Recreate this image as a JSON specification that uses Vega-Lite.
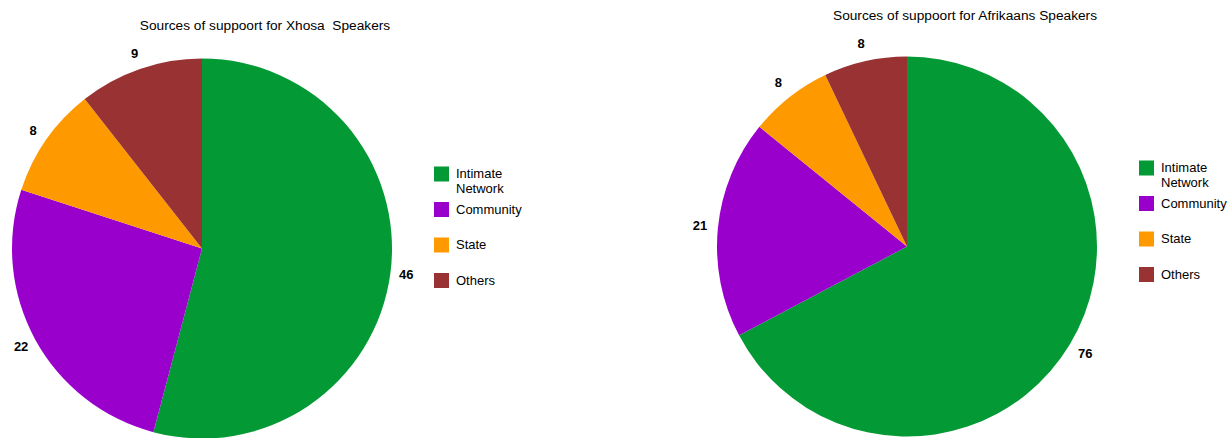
{
  "$schema": "https://vega.github.io/schema/vega-lite/v6.json",
  "background": "white",
  "padding": {"left": 12, "top": 8.5, "right": 0, "bottom": 0},
  "bounds": "flush",
  "spacing": 325,
  "config": {
    "view": {"stroke": null},
    "font": "Liberation Sans",
    "title": {"fontSize": 13.7, "fontWeight": "normal", "color": "#000000", "baseline": "alphabetic", "anchor": "middle"},
    "legend": {"labelFontSize": 13, "labelColor": "#000000", "symbolType": "square", "symbolSize": 225, "symbolStrokeWidth": 0, "labelOffset": 7, "rowPadding": 5.5, "title": null, "orient": "none", "labelLimit": 200}
  },
  "resolve": {"scale": {"color": "independent"}, "legend": {"color": "independent"}},
  "hconcat": [
    {
      "width": 380,
      "height": 380,
      "title": {"text": "Sources of suppoort for Xhosa\u00a0 Speakers", "dx": 63, "offset": 14.8},
      "data": {"values": [
        {"source": "Intimate Network", "count": 46, "seq": 1},
        {"source": "Community", "count": 22, "seq": 2},
        {"source": "State", "count": 8, "seq": 3},
        {"source": "Others", "count": 9, "seq": 4}
      ]},
      "encoding": {
        "theta": {"field": "count", "type": "quantitative", "stack": true},
        "order": {"field": "seq", "type": "quantitative"},
        "color": {
          "field": "source", "type": "nominal",
          "scale": {"domain": ["Intimate Network", "Community", "State", "Others"], "range": ["#039935", "#9900cc", "#ff9900", "#993333"]},
          "legend": {"legendX": 422, "legendY": 108, "labelExpr": "datum.label == 'Intimate Network' ? ['Intimate', 'Network'] : [datum.label, ' ']"}
        }
      },
      "layer": [
        {"mark": {"type": "arc", "outerRadius": 190}},
        {"mark": {"type": "text", "radius": 206, "fontWeight": "bold", "fontSize": 13, "align": "center", "baseline": "middle"},
         "encoding": {"text": {"field": "count", "type": "quantitative"}, "color": {"value": "#000000"}}}
      ]
    },
    {
      "width": 380,
      "height": 376,
      "title": {"text": "Sources of suppoort for Afrikaans Speakers", "dx": 58, "offset": 14.7},
      "data": {"values": [
        {"source": "Intimate Network", "count": 76, "seq": 1},
        {"source": "Community", "count": 21, "seq": 2},
        {"source": "State", "count": 8, "seq": 3},
        {"source": "Others", "count": 8, "seq": 4}
      ]},
      "encoding": {
        "theta": {"field": "count", "type": "quantitative", "stack": true},
        "order": {"field": "seq", "type": "quantitative"},
        "color": {
          "field": "source", "type": "nominal",
          "scale": {"domain": ["Intimate Network", "Community", "State", "Others"], "range": ["#039935", "#9900cc", "#ff9900", "#993333"]},
          "legend": {"legendX": 422, "legendY": 102, "labelExpr": "datum.label == 'Intimate Network' ? ['Intimate', 'Network'] : [datum.label, ' ']"}
        }
      },
      "layer": [
        {"mark": {"type": "arc", "outerRadius": 190}},
        {"mark": {"type": "text", "radius": 208, "fontWeight": "bold", "fontSize": 13, "align": "center", "baseline": "middle"},
         "encoding": {"text": {"field": "count", "type": "quantitative"}, "color": {"value": "#000000"}}}
      ]
    }
  ]
}
